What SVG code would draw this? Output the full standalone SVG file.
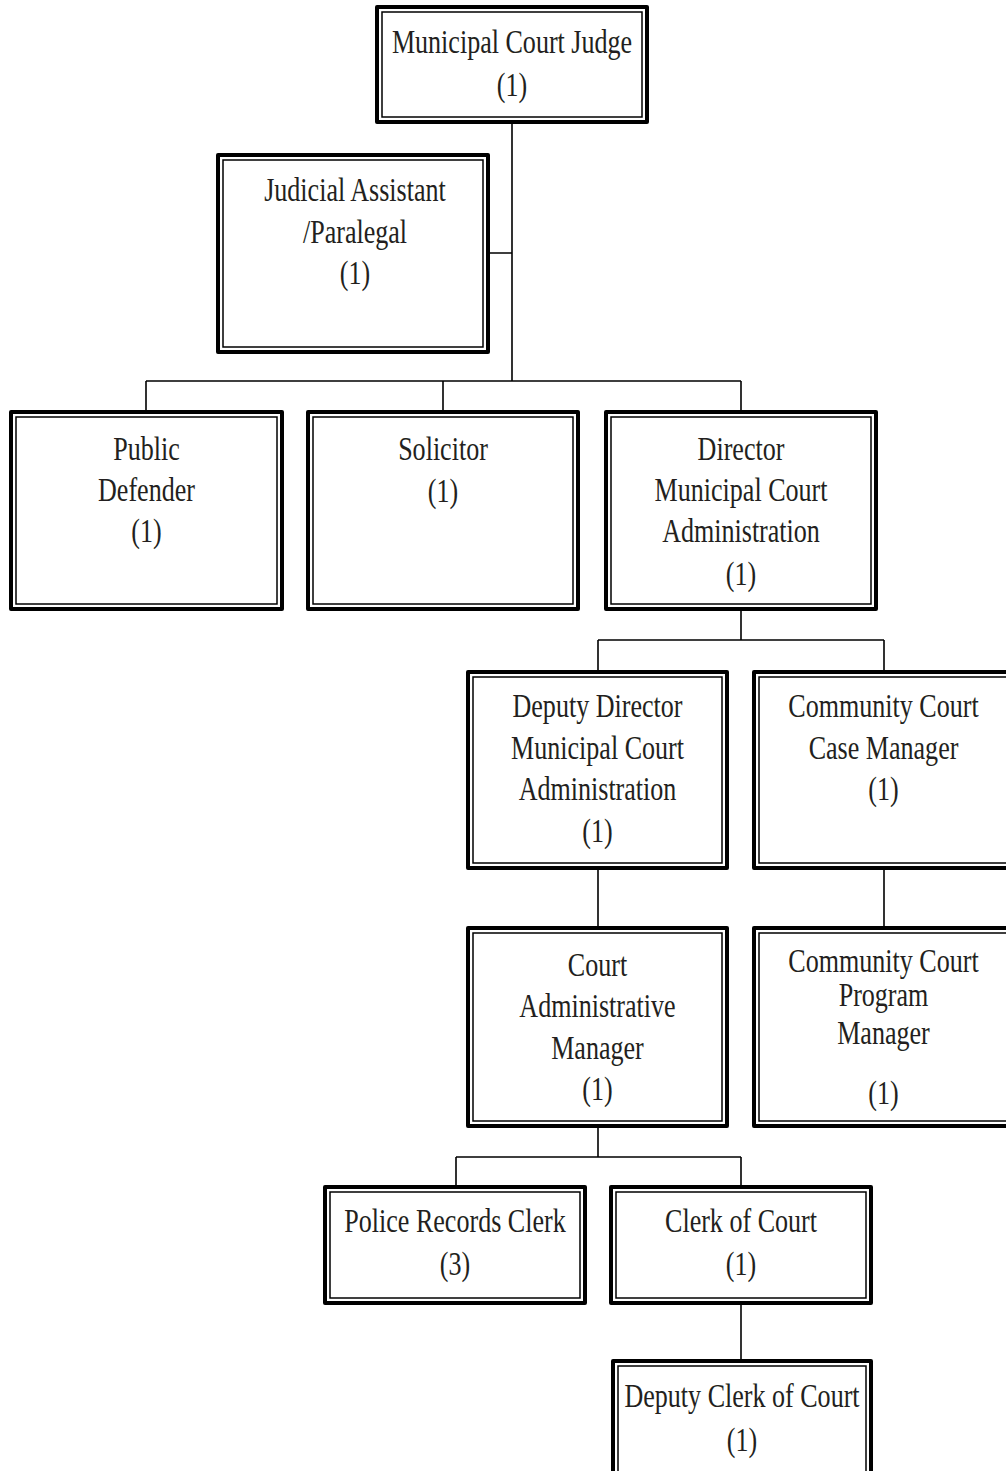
<svg xmlns="http://www.w3.org/2000/svg" width="1006" height="1471" viewBox="0 0 1006 1471">
<style>
.o{fill:#fff;stroke:#000;stroke-width:4;stroke-linejoin:round}
.i{fill:none;stroke:#000;stroke-width:1.5}
.t{font-family:'Liberation Serif','Times New Roman',serif;font-size:33px;text-anchor:middle;fill:#231f20}
.c{fill:none;stroke:#000;stroke-width:1.6}
</style>
<rect width="1006" height="1471" fill="#fff"/>
<g id="connectors">
<path class="c" d="M512 122V381M488 253H512M146 381H741M146 381V412M443 381V412M741 381V412"/>
<path class="c" d="M741 609V640M598 640H884M598 640V672M884 640V672"/>
<path class="c" d="M598 868V928M884 868V928"/>
<path class="c" d="M598 1126V1157M456 1157H741M456 1157V1187M741 1157V1187"/>
<path class="c" d="M741 1303V1361"/>
</g>
<g id="judge">
<rect class="o" x="377" y="7" width="270" height="115"/>
<rect class="i" x="382" y="12" width="260" height="105"/>
<text class="t" transform="translate(512 0) scale(0.79 1)"><tspan x="0" y="53">Municipal Court Judge</tspan><tspan x="0" y="96">(1)</tspan></text>
</g>
<g id="judicial-assistant">
<rect class="o" x="218" y="155" width="270" height="197"/>
<rect class="i" x="223" y="160" width="260" height="187"/>
<text class="t" transform="translate(355 0) scale(0.79 1)"><tspan x="0" y="201">Judicial Assistant</tspan><tspan x="0" y="243">/Paralegal</tspan><tspan x="0" y="284">(1)</tspan></text>
</g>
<g id="public-defender">
<rect class="o" x="11" y="412" width="271" height="197"/>
<rect class="i" x="16" y="417" width="261" height="187"/>
<text class="t" transform="translate(146.5 0) scale(0.79 1)"><tspan x="0" y="460">Public</tspan><tspan x="0" y="501">Defender</tspan><tspan x="0" y="542">(1)</tspan></text>
</g>
<g id="solicitor">
<rect class="o" x="308" y="412" width="270" height="197"/>
<rect class="i" x="313" y="417" width="260" height="187"/>
<text class="t" transform="translate(443 0) scale(0.79 1)"><tspan x="0" y="460">Solicitor</tspan><tspan x="0" y="502">(1)</tspan></text>
</g>
<g id="director">
<rect class="o" x="606" y="412" width="270" height="197"/>
<rect class="i" x="611" y="417" width="260" height="187"/>
<text class="t" transform="translate(741 0) scale(0.79 1)"><tspan x="0" y="460">Director</tspan><tspan x="0" y="501">Municipal Court</tspan><tspan x="0" y="542">Administration</tspan><tspan x="0" y="585">(1)</tspan></text>
</g>
<g id="deputy-director">
<rect class="o" x="468" y="672" width="259" height="196"/>
<rect class="i" x="473" y="677" width="249" height="186"/>
<text class="t" transform="translate(597.5 0) scale(0.79 1)"><tspan x="0" y="717">Deputy Director</tspan><tspan x="0" y="759">Municipal Court</tspan><tspan x="0" y="800">Administration</tspan><tspan x="0" y="842">(1)</tspan></text>
</g>
<g id="case-manager">
<rect class="o" x="754" y="672" width="259" height="196"/>
<rect class="i" x="759" y="677" width="249" height="186"/>
<text class="t" transform="translate(883.5 0) scale(0.79 1)"><tspan x="0" y="717">Community Court</tspan><tspan x="0" y="759">Case Manager</tspan><tspan x="0" y="800">(1)</tspan></text>
</g>
<g id="court-admin-manager">
<rect class="o" x="468" y="928" width="259" height="198"/>
<rect class="i" x="473" y="933" width="249" height="188"/>
<text class="t" transform="translate(597.5 0) scale(0.79 1)"><tspan x="0" y="976">Court</tspan><tspan x="0" y="1017">Administrative</tspan><tspan x="0" y="1059">Manager</tspan><tspan x="0" y="1100">(1)</tspan></text>
</g>
<g id="program-manager">
<rect class="o" x="754" y="928" width="259" height="198"/>
<rect class="i" x="759" y="933" width="249" height="188"/>
<text class="t" transform="translate(883.5 0) scale(0.79 1)"><tspan x="0" y="972">Community Court</tspan><tspan x="0" y="1006">Program</tspan><tspan x="0" y="1044">Manager</tspan><tspan x="0" y="1104">(1)</tspan></text>
</g>
<g id="police-records-clerk">
<rect class="o" x="325" y="1187" width="260" height="116"/>
<rect class="i" x="330" y="1192" width="250" height="106"/>
<text class="t" transform="translate(455 0) scale(0.79 1)"><tspan x="0" y="1232">Police Records Clerk</tspan><tspan x="0" y="1275">(3)</tspan></text>
</g>
<g id="clerk-of-court">
<rect class="o" x="611" y="1187" width="260" height="116"/>
<rect class="i" x="616" y="1192" width="250" height="106"/>
<text class="t" transform="translate(741 0) scale(0.79 1)"><tspan x="0" y="1232">Clerk of Court</tspan><tspan x="0" y="1275">(1)</tspan></text>
</g>
<g id="deputy-clerk-of-court">
<rect class="o" x="613" y="1361" width="258" height="130"/>
<rect class="i" x="618" y="1366" width="248" height="120"/>
<text class="t" transform="translate(742 0) scale(0.79 1)"><tspan x="0" y="1407">Deputy Clerk of Court</tspan><tspan x="0" y="1451">(1)</tspan></text>
</g>
</svg>
